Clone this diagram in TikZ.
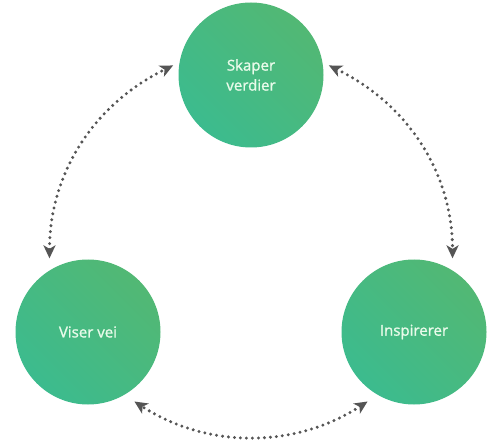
\documentclass[tikz,border=0pt]{standalone}
\usepackage{fontspec}
\setmainfont{Open Sans}
\newfontfamily\rollefont[FakeBold=1.2]{Open Sans}
\usetikzlibrary{arrows.meta}

\definecolor{rolleGroenn}{HTML}{52B874}
\definecolor{rolleTurkis}{HTML}{3CBB8E}
\definecolor{pilGraa}{HTML}{555555}
\definecolor{tekstHvit}{HTML}{E9FBEA}

\begin{document}
\begin{tikzpicture}[x=1pt,y=-1pt,
  rolle/.style={circle, minimum size=145pt, inner sep=0pt,
    top color=rolleGroenn, bottom color=rolleTurkis, shading angle=-45,
    text=tekstHvit, font=\rollefont\fontsize{15}{20}\selectfont, align=center},
  pil/.style={{Stealth[length=13pt,width=12pt,inset=3.5pt]}-{Stealth[length=13pt,width=12pt,inset=3.5pt]},
    pilGraa, line width=3.3pt, line cap=round, dash pattern=on 0pt off 6pt}]
  \useasboundingbox (0,0) rectangle (489,443);

  % de tre rollene
  \node[rolle] (skaper) at (251,75) {Skaper\\verdier};
  \node[rolle] (viser) at (88,332) {Viser vei};
  \node[rolle] (inspirer) at (414,332) {Inspirerer};

  % stiplede piler rundt
  \draw[pil, shorten <=12pt, shorten >=7pt] (viser.122) to[bend left=32] (skaper.170);
  \draw[pil, shorten <=7pt, shorten >=12pt] (skaper.10) to[bend left=32] (inspirer.58);
  \draw[pil, shorten <=12pt, shorten >=12pt] (inspirer.240) to[bend left=33] (viser.300);

\end{tikzpicture}
\end{document}
